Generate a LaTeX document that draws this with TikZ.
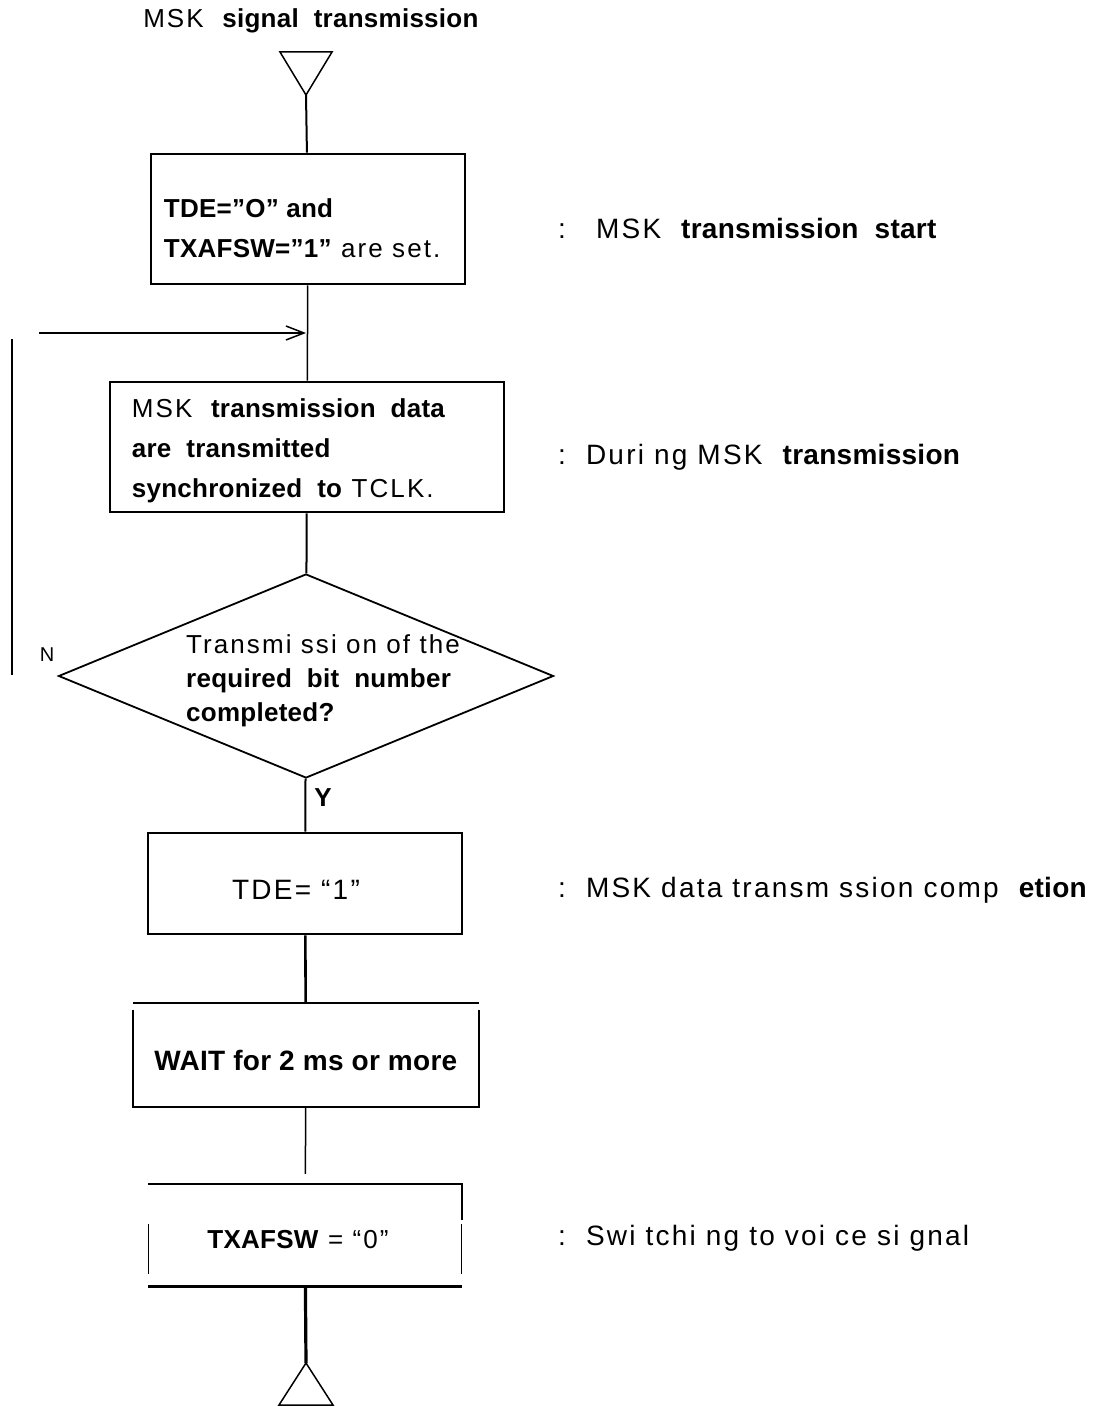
\documentclass[tikz,border=0pt]{standalone}
\usepackage{fontspec}
\setmainfont{Liberation Sans}[LetterSpace=8, BoldFeatures={LetterSpace=1}]
\usetikzlibrary{arrows.meta, shapes.geometric, positioning}

\begin{document}
\begin{tikzpicture}[x=1pt, y=-1pt,
		every node/.style={font=\fontsize{28}{40}\selectfont},
		procbox/.style={draw, line width=2.6pt, inner sep=0pt},
		boxtext/.style={align=left, anchor=west, inner sep=0pt, font=\fontsize{26}{40}\selectfont},
		conn/.style={line width=2pt},
		note/.style={anchor=west, inner sep=0pt}]
			\useasboundingbox (0,0) rectangle (1106,1407);
			% Title and start
			\node[font=\fontsize{26}{30}\selectfont] (title) at (311,21) {MSK\ \ \textbf{signal\ \ transmission}};
			\coordinate (start) at (306,95);
			\draw[line width=1.5pt] (start) -- ++(-26,-43) -- ++(52,0) -- cycle;
			
			% Boxes
			\node[procbox, minimum width=314pt, minimum height=130pt] (box1) at (308,219) {};
			\node[boxtext] (box1text) at ([xshift=14pt,yshift=-9pt]box1.west)
				{\textbf{TDE=”O” and}\\\textbf{TXAFSW=”1”} are\ set.};
			\node[procbox, minimum width=394pt, minimum height=130pt] (box2) at (307,447) {};
			\node[boxtext] (box2text) at ([xshift=23pt,yshift=-4pt]box2.west)
				{MSK\ \ \textbf{transmission\ \ data}\\\textbf{are\ \ transmitted}\\\textbf{synchronized\ \ to} TCLK.};
			\node[draw, diamond, line width=1.8pt, inner sep=0pt, minimum width=495pt, minimum height=204pt] (test) at (306,676) {};
			\node[boxtext, font=\fontsize{26}{34}\selectfont] (testtext) at (186,681)
				{Transmi ssi on of the\\\textbf{required\ \ bit\ \ number}\\\textbf{completed?}};
			\node[procbox, minimum width=314pt, minimum height=101pt] (box3) at (305,883.5) {};
			\node (box3text) at ([xshift=-9pt,yshift=-6pt]box3.center) {TDE=\ “1”};
			\node[inner sep=0pt, minimum width=346pt, minimum height=104pt] (box4) at (306,1055) {};
			\node (box4text) at ([yshift=-5pt]box4.center) {\textbf{WAIT\ for\ 2\ ms\ or\ more}};
			\node[inner sep=0pt, minimum width=313pt, minimum height=102pt] (box5) at (305,1235) {};
			\node[font=\fontsize{26}{30}\selectfont] (box5text) at ([xshift=-7pt,yshift=-5pt]box5.center) {\textbf{TXAFSW} =\ “0”};
			\coordinate (stop) at (306,1363);
			
			% open-sided boxes
			\draw[line width=2.5pt] (box4.north west) -- (box4.north east);
			\draw[line width=1.5pt] ([yshift=-7pt]box4.north west) -- (box4.south west) -- (box4.south east) -- ([yshift=-7pt]box4.north east);
			\draw[line width=2pt] (box5.north west) -- (box5.north east) -- ++(0,36);
			\draw[line width=3pt] (box5.south west) -- (box5.south east);
			\draw[line width=1pt] ([yshift=-40pt]box5.north west) -- ([yshift=12pt]box5.south west);
			\draw[line width=1pt] ([yshift=-40pt]box5.north east) -- ([yshift=12pt]box5.south east);
			
			% Flow
			\draw[conn] (start) -- (box1);
			\draw[line width=1.5pt] (box1) -- (box2);
			\draw[conn] (box2) -- (test);
			\draw[conn] (test) -- (box3);
			\draw[line width=2.6pt] (box3) -- (box4);
			\draw[line width=1.5pt, shorten >=10pt] (box4) -- (box5);
			\draw[line width=3.2pt] (box5) -- (stop);
			\draw[line width=1.5pt] (stop) -- ++(-27,42) -- ++(54,0) -- cycle;
			\node[font=\fontsize{26}{30}\selectfont\bfseries] (ylabel) at (323,798) {Y};
			
			% Loop back
			\coordinate (loopbot) at (12,675);
			\coordinate (looptop) at (12,339);
			\coordinate (loopin) at (39,333);
			\coordinate (joint) at (306,333);
			\draw[line width=2.6pt] (loopbot) -- (looptop);
			\draw[line width=1.5pt, -{Straight Barb[length=18pt, width=14pt]}] (loopin) -- (joint);
			\node[font=\fontsize{20}{24}\selectfont] (nlabel) at (47,655) {N};
			
			% Notes
			\node[note] (note1) at (558,228) {:\ \ \ MSK\ \ \textbf{transmission\ \ start}};
			\node[note] (note2) at (558,457) {:\ \ Duri ng\ MSK\ \ \textbf{transmission}};
			\node[note] (note3) at (558,890) {:\ \ MSK data\ transm ssion\ comp\ \ \textbf{etion}};
			\node[note] (note4) at (558,1238) {:\ \ Swi tchi ng to voi ce si gnal};
\end{tikzpicture}
\end{document}
